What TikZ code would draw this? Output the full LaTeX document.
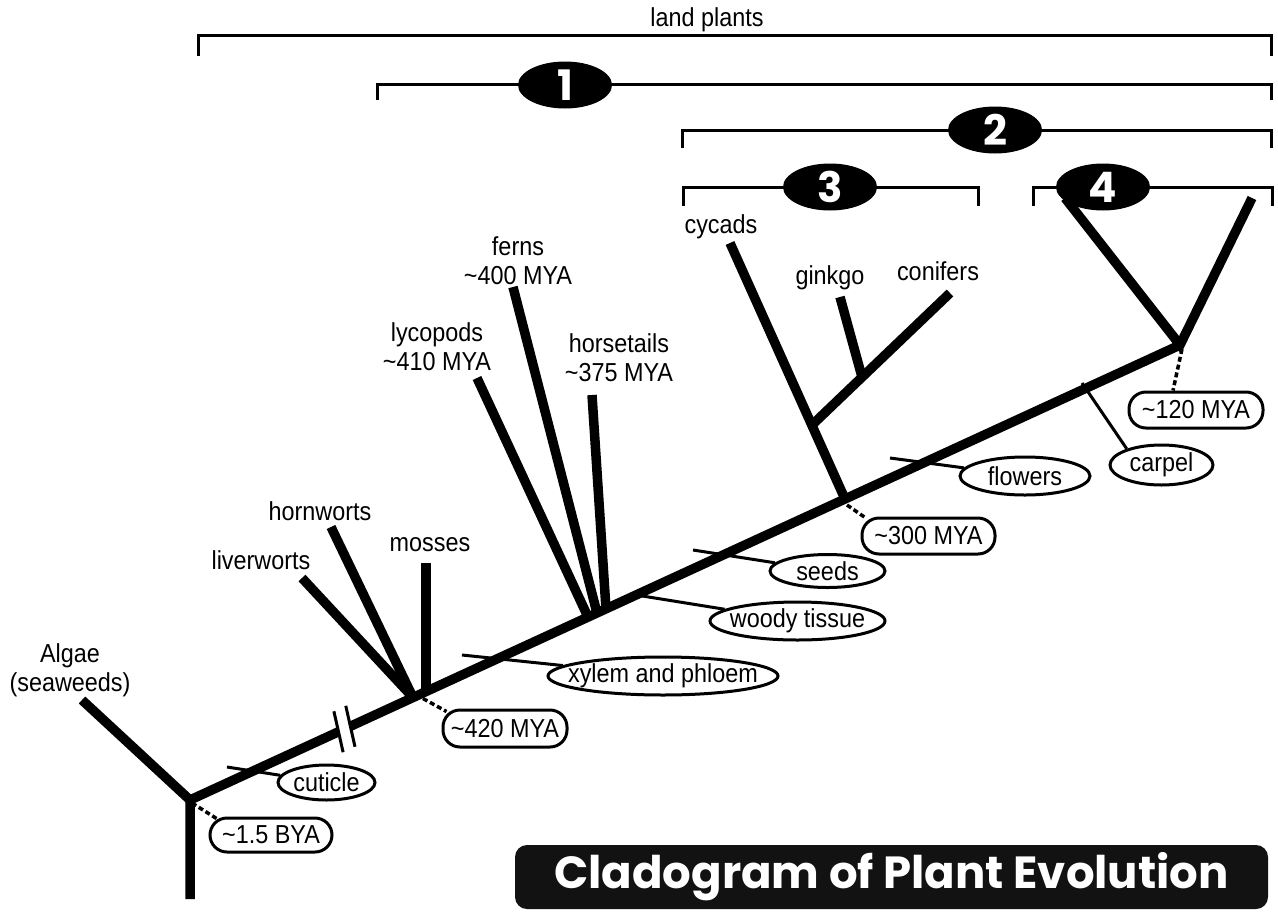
\documentclass[tikz,border=0pt]{standalone}
\usepackage{fontspec}
\setmainfont{Liberation Sans}[FakeStretch=0.9]
\newfontfamily\titlefont{Poppins}
\usetikzlibrary{shapes.geometric,calc}
\tikzset{
  branch/.style={line width=9.5pt, line cap=butt},
  bracket/.style={line width=3pt},
  charline/.style={line width=3pt},
  dateline/.style={line width=3.5pt, dash pattern=on 5pt off 3pt},
  lbl/.style={font=\fontsize{26}{29}\selectfont, align=center, inner sep=0pt},
  charoval/.style={ellipse, draw, line width=3pt, fill=white, inner xsep=-45pt, inner ysep=-12pt, font=\fontsize{26}{29}\selectfont},
  datebox/.style={draw, line width=3pt, fill=white, rounded corners=17pt, inner xsep=-20pt, inner ysep=-8pt, font=\fontsize{26}{29}\selectfont},
  numoval/.style={ellipse, fill=black, text=white, minimum width=94pt, minimum height=47pt, inner sep=0pt, font=\titlefont\bfseries\fontsize{42}{44}\selectfont},
}
\begin{document}
\begin{tikzpicture}[x=1pt,y=-1pt]
\useasboundingbox (0,0) rectangle (1278,911);
% ---- coordinates
\coordinate (root) at (190,800);
\coordinate (base) at (190,899);
\coordinate (algaetip) at (82,700);
\coordinate (top) at (1180,345);
\coordinate (s1) at ($(root)!0.150!(top)$);
\coordinate (s2) at ($(root)!0.162!(top)$);
\coordinate (bry) at (413,697.5);
\coordinate (mossb) at (426,692);
\coordinate (livtip) at (302,578);
\coordinate (horntip) at (331,527);
\coordinate (mosstip) at (426,563);
\coordinate (lycb) at (588,617);
\coordinate (fernb) at (597,613);
\coordinate (horsb) at (606,609);
\coordinate (lyctip) at (477,378);
\coordinate (ferntip) at (513,287);
\coordinate (horstip) at (592,395);
\coordinate (cyc) at (845,499);
\coordinate (cyctip) at (730,243);
\coordinate (conb) at (812,425);
\coordinate (contip) at (950,293);
\coordinate (ginb) at (862,377);
\coordinate (gintip) at (840,297);
\coordinate (angl) at (1065,198);
\coordinate (angr) at (1252,198);
% ---- tree
\draw[branch] (base) -- (root) -- (top);
\draw[branch] (root) -- (algaetip);
\draw[branch] (bry) -- (livtip);
\draw[branch] (bry) -- (horntip);
\draw[branch] (mossb) -- (mosstip);
\draw[branch] (lycb) -- (lyctip);
\draw[branch] (fernb) -- (ferntip);
\draw[branch] (horsb) -- (horstip);
\draw[branch] (cyc) -- (cyctip);
\draw[branch] (conb) -- (contip);
\draw[branch] (ginb) -- (gintip);
\draw[branch, line join=miter] (angl) -- (top) -- (angr);
% double slash
\fill[white] ($(s1)!7pt!90:(top)$) -- ($(s1)!7pt!-90:(top)$) -- ($(s2)!7pt!-90:(top)$) -- ($(s2)!7pt!90:(top)$) -- cycle;
\draw[line width=3pt] ($(s1)!21pt!78:(top)$) -- ($(s1)!21pt!-102:(top)$);
\draw[line width=3pt] ($(s2)!21pt!78:(top)$) -- ($(s2)!21pt!-102:(top)$);
% ---- taxon labels
\node[lbl] (algae) at (70,670) {Algae\\(seaweeds)};
\node[lbl] (liv) at (261,560) {liverworts};
\node[lbl] (horn) at (320,511) {hornworts};
\node[lbl] (moss) at (430,545) {mosses};
\node[lbl] (lyc) at (437,347) {lycopods\\\textasciitilde410 MYA};
\node[lbl] (fern) at (518,261) {ferns\\\textasciitilde400 MYA};
\node[lbl] (hors) at (619,358) {horsetails\\\textasciitilde375 MYA};
\node[lbl] (cycl) at (721,227) {cycads};
\node[lbl] (gin) at (830,278) {ginkgo};
\node[lbl] (con) at (938,271) {conifers};
\node[lbl] (land) at (707,20) {land plants};
% ---- characters
\node[charoval, minimum width=97pt, minimum height=35pt] (cut) at (326.5,782.5) {cuticle};
\node[charoval, minimum width=230pt, minimum height=38pt] (xyl) at (663,676) {xylem and phloem};
\node[charoval, minimum width=175pt, minimum height=38pt] (woody) at (797.5,621) {woody tissue};
\node[charoval, minimum width=115pt, minimum height=33pt] (seeds) at (827.5,571) {seeds};
\node[charoval, minimum width=130pt, minimum height=38pt] (flow) at (1025,476) {flowers};
\node[charoval, minimum width=103pt, minimum height=40pt] (carp) at (1161.5,465) {carpel};
\coordinate (cutm) at (227,767);
\coordinate (xylm) at (462,655);
\coordinate (woodm) at (630,594);
\coordinate (seedm) at (693,550);
\coordinate (flowm) at (890,458);
\coordinate (carpm) at (1082,383);
\draw[charline] (cutm) -- (cut);
\draw[charline] (xylm) -- (xyl);
\draw[charline] (woodm) -- (woody);
\draw[charline] (seedm) -- (seeds);
\draw[charline] (flowm) -- (flow);
\draw[charline] (carpm) -- (carp.155);
% ---- dates
\node[datebox, minimum width=122pt, minimum height=34pt] (bya) at (271,835) {\textasciitilde1.5 BYA};
\node[datebox, minimum width=124pt, minimum height=37pt] (m420) at (505,728.5) {\textasciitilde420 MYA};
\node[datebox, minimum width=133pt, minimum height=36pt] (m300) at (928.5,536) {\textasciitilde300 MYA};
\node[datebox, minimum width=134pt, minimum height=36pt] (m120) at (1196,410) {\textasciitilde120 MYA};
\draw[dateline] ($(root)+(2,3)$) -- ([xshift=8pt,yshift=-2pt]bya.north west);
\draw[dateline] ($(bry)+(10,1)$) -- ([xshift=5pt,yshift=-3pt]m420.north west);
\draw[dateline] ($(cyc)+(2,6)$) -- ([xshift=6pt,yshift=-2pt]m300.north west);
\draw[dateline] ($(top)+(2,4)$) -- ([xshift=-23pt]m120.north);
% ---- brackets
\draw[bracket] (198,56) -- (198,35) -- (1271,35) -- (1271,56);
\draw[bracket] (377,100) -- (377,84) -- (1271,84) -- (1271,100);
\draw[bracket] (682,148) -- (682,130) -- (1271,130) -- (1271,148);
\draw[bracket] (683,206) -- (683,187) -- (978,187) -- (978,206);
\draw[bracket] (1033,206) -- (1033,187) -- (1272,187) -- (1272,206);
\node[numoval] (n1) at (565,85) {1};
\node[numoval] (n2) at (995,130) {2};
\node[numoval] (n3) at (830,187) {3};
\node[numoval] (n4) at (1103,187) {4};
% ---- title
\node[fill=black!93, rounded corners=12pt, minimum width=753pt, minimum height=64pt, text=white, inner sep=0pt,
      font=\titlefont\bfseries\fontsize{45}{48}\selectfont] (title) at (891.5,877) {Cladogram of Plant Evolution};
\end{tikzpicture}
\end{document}
